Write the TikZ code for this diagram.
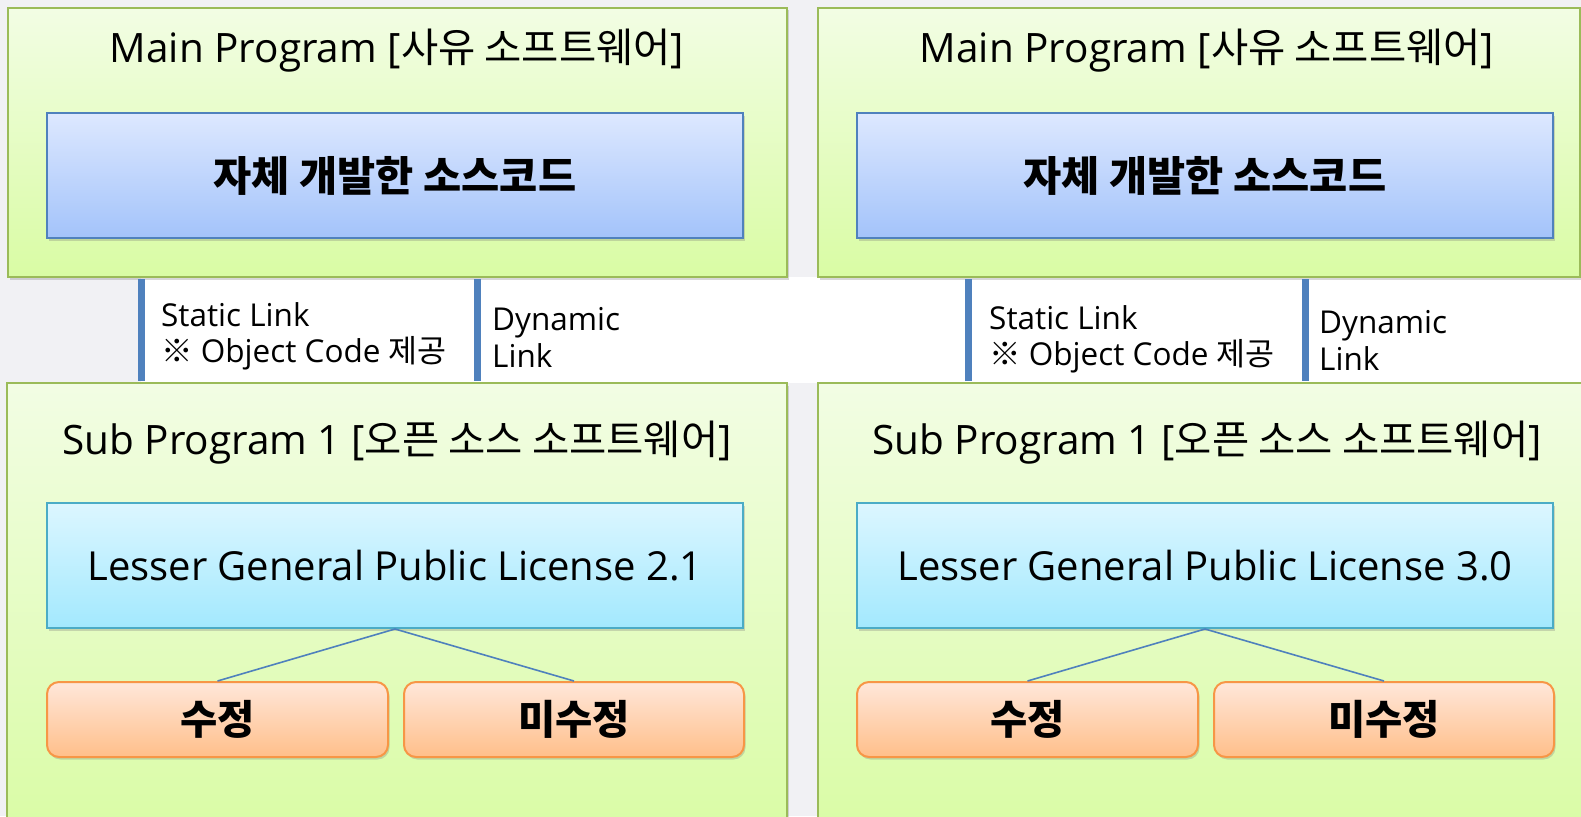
\documentclass[tikz,border=0pt]{standalone}
\usepackage{fontspec}
\setmainfont{Open Sans}
\newfontfamily\kr{Noto Sans CJK KR}
\usetikzlibrary{shadows}
\definecolor{pgT}{HTML}{F2FDE4}
\definecolor{pgB}{HTML}{D9FCA4}
\definecolor{pBorder}{HTML}{9BBB59}
\definecolor{blT}{HTML}{DDE8FF}
\definecolor{blB}{HTML}{A3C3FA}
\definecolor{blBorder}{HTML}{4F81BD}
\definecolor{cyT}{HTML}{DCF6FF}
\definecolor{cyB}{HTML}{A3E9FE}
\definecolor{cyBorder}{HTML}{4BACC6}
\definecolor{orT}{HTML}{FFE7DA}
\definecolor{orB}{HTML}{FFBF8A}
\definecolor{orBorder}{HTML}{F79646}
\definecolor{bgc}{HTML}{F1F1F4}
\definecolor{barc}{HTML}{4F81BD}
\newcommand{\lowered}[1]{\raisebox{-3pt}{#1}}
\tikzset{
  softshadow/.style={drop shadow={shadow xshift=1.5pt, shadow yshift=-2.5pt, opacity=0.28, fill=black!55}},
  panel/.style={draw=pBorder, line width=2pt, top color=pgT, bottom color=pgB, inner sep=0pt, softshadow},
  srcbox/.style={draw=blBorder, line width=2pt, top color=blT, bottom color=blB, inner sep=0pt,
    minimum width=696pt, minimum height=125pt, softshadow, font=\kr\bfseries\fontsize{41.5}{48}\selectfont},
  licbox/.style={draw=cyBorder, line width=2pt, top color=cyT, bottom color=cyB, inner sep=0pt,
    minimum width=696pt, minimum height=125pt, softshadow, font=\fontsize{40}{46}\selectfont},
  modbox/.style={draw=orBorder, line width=2pt, top color=orT, bottom color=orB, inner sep=0pt,
    rounded corners=12pt, minimum height=75pt, softshadow, font=\kr\bfseries\fontsize{40.5}{46}\selectfont},
  titletext/.style={anchor=base, inner sep=0pt, font=\fontsize{40.5}{46}\selectfont},
  linktext/.style={anchor=base west, inner sep=0pt, font=\fontsize{31.5}{36}\selectfont},
  conn/.style={draw=barc, line width=1.6pt},
  linkbar/.style={draw=barc, line width=7pt}
}
\begin{document}
\begin{tikzpicture}[x=1pt,y=-1pt]
\useasboundingbox (0,0) rectangle (1581,816);
\fill[bgc] (0,0) rectangle (1581,816);
\fill[white] (141,277) rectangle (1581,383);

% ---------- left panel ----------
\node[panel, minimum width=779pt, minimum height=269pt] (mainL) at (397.5,142.5) {};
\node[panel, minimum width=780pt, minimum height=457pt] (subL) at (397,611.5) {};
\node[titletext] (mainLt) at (397,63) {Main Program [{\kr 사유 소프트웨어}]};
\node[srcbox] (srcL) at (395,175.5) {자체 개발한 소스코드};
\node[titletext] (subLt) at (397,454) {Sub Program 1 [{\kr 오픈 소스 소프트웨어}]};
\node[licbox] (licL) at (395,565.5) {Lesser General Public License 2.1};
\node[modbox, minimum width=341pt] (modL) at (217.5,719.5) {\lowered{수정}};
\node[modbox, minimum width=340pt] (unmodL) at (574,719.5) {\lowered{미수정}};
\draw[conn] (licL.south) -- (modL.north);
\draw[conn] (licL.south) -- (unmodL.north);
\coordinate (bL1) at (141,330);
\coordinate (bL2) at (477,330);
\draw[linkbar] ([yshift=-1pt]mainL.south -| bL1) -- ([yshift=1pt]subL.north -| bL1);
\draw[linkbar] ([yshift=-1pt]mainL.south -| bL2) -- ([yshift=1pt]subL.north -| bL2);
\node[linktext] (stL1) at (161,326) {Static Link};
\node[linktext] (stL2) at (161,362) {{\kr ※} Object Code {\kr 제공}};
\node[linktext] (dyL1) at (492,330) {Dynamic};
\node[linktext] (dyL2) at (492,367) {Link};

% ---------- right panel ----------
\node[panel, minimum width=762pt, minimum height=269pt] (mainR) at (1199,142.5) {};
\node[panel, minimum width=772pt, minimum height=457pt] (subR) at (1204,611.5) {};
\node[titletext] (mainRt) at (1207,63) {Main Program [{\kr 사유 소프트웨어}]};
\node[srcbox] (srcR) at (1205,175.5) {자체 개발한 소스코드};
\node[titletext] (subRt) at (1207,454) {Sub Program 1 [{\kr 오픈 소스 소프트웨어}]};
\node[licbox] (licR) at (1205,565.5) {Lesser General Public License 3.0};
\node[modbox, minimum width=341pt] (modR) at (1027.5,719.5) {\lowered{수정}};
\node[modbox, minimum width=340pt] (unmodR) at (1384,719.5) {\lowered{미수정}};
\draw[conn] (licR.south) -- (modR.north);
\draw[conn] (licR.south) -- (unmodR.north);
\coordinate (bR1) at (968,330);
\coordinate (bR2) at (1305,330);
\draw[linkbar] ([yshift=-1pt]mainR.south -| bR1) -- ([yshift=1pt]subR.north -| bR1);
\draw[linkbar] ([yshift=-1pt]mainR.south -| bR2) -- ([yshift=1pt]subR.north -| bR2);
\node[linktext] (stR1) at (989,329) {Static Link};
\node[linktext] (stR2) at (989,365) {{\kr ※} Object Code {\kr 제공}};
\node[linktext] (dyR1) at (1319,333) {Dynamic};
\node[linktext] (dyR2) at (1319,370) {Link};
\end{tikzpicture}
\end{document}
